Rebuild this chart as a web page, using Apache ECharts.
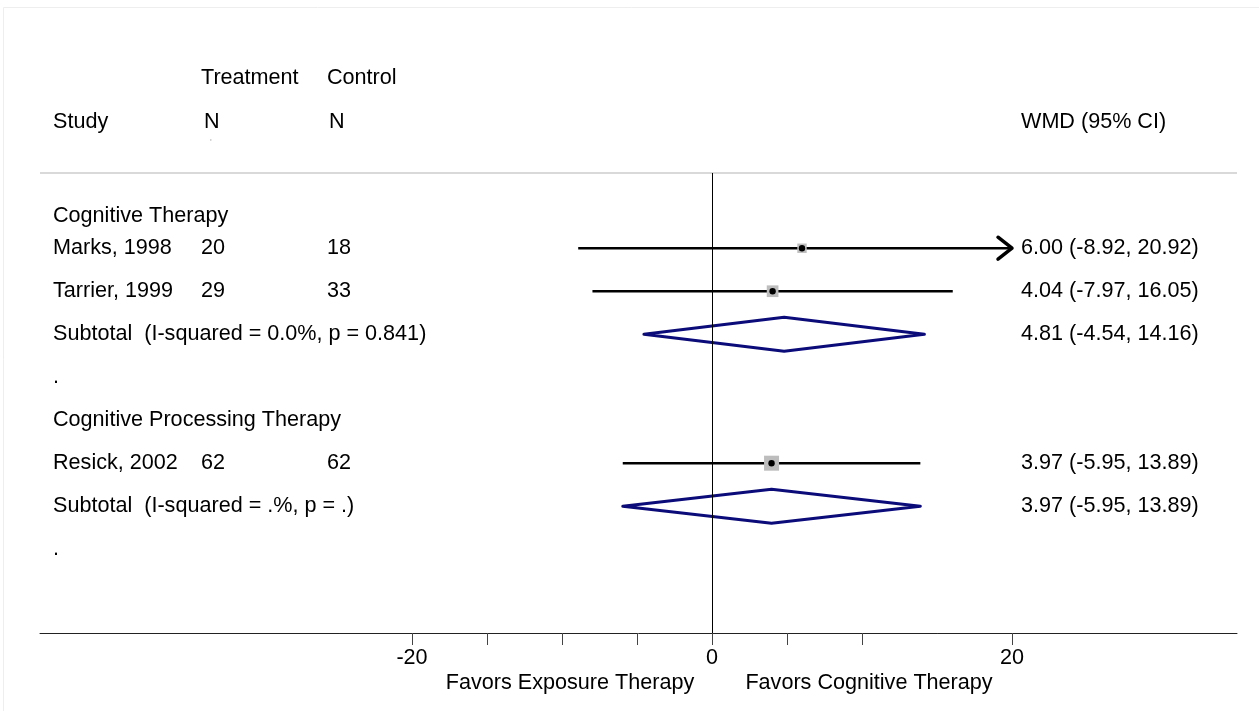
<!DOCTYPE html>
<html>
<head>
<meta charset="utf-8">
<title>Forest plot: cognitive vs exposure therapy</title>
<script src="https://cdn.jsdelivr.net/npm/echarts@6/dist/echarts.min.js"></script>
<style>
  html, body { margin: 0; padding: 0; background: #ffffff; }
  #chart { width: 1259px; height: 711px; }
</style>
</head>
<body>
<div id="chart"></div>
<script>
// ---- study-level data ----
const studies   = ['Marks, 1998', 'Tarrier, 1999', 'Resick, 2002'];
const treatN    = [20, 29, 62];
const controlN  = [18, 33, 62];
const wmd       = [6.00, 4.04, 3.97];
const ciLow     = [-8.92, -7.97, -5.95];
const ciHigh    = [20.92, 16.05, 13.89];
const weights   = [39.3, 60.7, 100];      // percent weight within subgroup
const studyRows = [1, 2, 6];

// ---- subgroups ----
const groups        = ['Cognitive Therapy', 'Cognitive Processing Therapy'];
const groupRows     = [0.25, 5];
const subtotalText  = ['Subtotal  (I-squared = 0.0%, p = 0.841)', 'Subtotal  (I-squared = .%, p = .)'];
const subtotalWmd   = [4.81, 3.97];
const subtotalLow   = [-4.54, -5.95];
const subtotalHigh  = [14.16, 13.89];
const subtotalRows  = [3, 7];
const spacerRows    = [4, 8];

// ---- axis ----
const xTickValues  = [-20, -15, -10, -5, 0, 5, 10, 20];
const xLabelValues = [-20, 0, 20];
const ciClipMax    = 20;

// ---- column headers ----
const headerTop    = ['Treatment', 'Control'];
const headerBottom = ['Study', 'N', 'N'];
const headerWmd    = 'WMD (95% CI)';
const favorsLeft   = 'Favors Exposure Therapy';
const favorsRight  = 'Favors Cognitive Therapy';

const FONT = "'Liberation Sans', Arial, Helvetica, sans-serif";
const FS = 21.6;
const COL_STUDY = 53, COL_TREAT = 201, COL_CTRL = 327, COL_WMD = 1021;

const fmt = v => v.toFixed(2);
const ciText = (e, l, h) => fmt(e) + ' (' + fmt(l) + ', ' + fmt(h) + ')';

// Rows of the text table, built from the arrays above
const tableRows = [];
groups.forEach((g, gi) => tableRows.push({ row: groupRows[gi], cells: [[COL_STUDY, g]] }));
studies.forEach((s, i) => tableRows.push({
  row: studyRows[i],
  cells: [[COL_STUDY, s], [COL_TREAT, String(treatN[i])], [COL_CTRL, String(controlN[i])],
          [COL_WMD, ciText(wmd[i], ciLow[i], ciHigh[i])]]
}));
subtotalText.forEach((t, i) => tableRows.push({
  row: subtotalRows[i],
  cells: [[COL_STUDY, t], [COL_WMD, ciText(subtotalWmd[i], subtotalLow[i], subtotalHigh[i])]]
}));
spacerRows.forEach(r => tableRows.push({ row: r, cells: [[COL_STUDY, '.']] }));

const chart = echarts.init(document.getElementById('chart'), null, { renderer: 'canvas' });

const textStyle = (t) => ({ text: t, fill: '#000', font: FS + 'px ' + FONT, align: 'left', verticalAlign: 'middle' });

const option = {
  backgroundColor: '#ffffff',
  animation: false,
  grid: { left: 40, right: 22, top: 173, bottom: 78, containLabel: false },
  xAxis: {
    type: 'value',
    min: -44.8,
    max: 35,
    splitLine: { show: false },
    axisLine: { show: true, onZero: false, lineStyle: { color: '#222', width: 1 } },
    axisTick: { show: true, customValues: xTickValues, length: 12, lineStyle: { color: '#444', width: 1 } },
    axisLabel: { customValues: xLabelValues, color: '#000', fontSize: FS, fontFamily: FONT, margin: 14 }
  },
  yAxis: {
    type: 'value',
    inverse: true,
    min: -0.75,
    max: 9.95,
    show: false
  },
  graphic: [
    { type: 'rect', shape: { x: 3.5, y: 7.5, width: 1260, height: 710 }, style: { fill: 'none', stroke: '#eeeeee', lineWidth: 1 }, silent: true },
    { type: 'line', shape: { x1: 40, y1: 173, x2: 1237, y2: 173 }, style: { stroke: '#d9d9d9', lineWidth: 2 }, silent: true },
    { type: 'text', x: COL_TREAT, y: 78, style: textStyle(headerTop[0]) },
    { type: 'text', x: COL_CTRL, y: 78, style: textStyle(headerTop[1]) },
    { type: 'text', x: COL_STUDY, y: 122, style: textStyle(headerBottom[0]) },
    { type: 'text', x: COL_TREAT + 3, y: 122, style: textStyle(headerBottom[1]) },
    { type: 'text', x: COL_CTRL + 2, y: 122, style: textStyle(headerBottom[2]) },
    { type: 'text', x: 210, y: 143, style: { text: "'", fill: '#b0b0b0', font: '9px ' + FONT, align: 'left', verticalAlign: 'middle' } },
    { type: 'text', x: COL_WMD, y: 122, style: textStyle(headerWmd) },
    { type: 'text', x: 570, y: 683, style: { text: favorsLeft, fill: '#000', font: FS + 'px ' + FONT, align: 'center', verticalAlign: 'middle' } },
    { type: 'text', x: 869, y: 683, style: { text: favorsRight, fill: '#000', font: FS + 'px ' + FONT, align: 'center', verticalAlign: 'middle' } }
  ],
  series: [
    // text columns: study names, sample sizes, WMD with CI
    {
      type: 'custom',
      name: 'table',
      silent: true,
      clip: false,
      data: tableRows.map(r => [0, r.row]),
      renderItem: (params, api) => {
        const r = tableRows[params.dataIndex];
        const y = api.coord([0, api.value(1)])[1];
        return {
          type: 'group',
          children: r.cells.map(c => ({ type: 'text', x: c[0], y: y, style: textStyle(c[1]) }))
        };
      }
    },
    // individual studies: CI line, weight box, point estimate, arrow when clipped
    {
      type: 'custom',
      name: 'studies',
      silent: true,
      clip: false,
      data: studies.map((s, i) => [wmd[i], studyRows[i], ciLow[i], ciHigh[i], weights[i]]),
      renderItem: (params, api) => {
        const est = api.value(0), row = api.value(1), lo = api.value(2), hi = api.value(3), w = api.value(4);
        const p = api.coord([est, row]);
        const clipped = hi > ciClipMax;
        const xl = api.coord([lo, row])[0];
        const xh = api.coord([Math.min(hi, ciClipMax), row])[0];
        const side = 1.5 * Math.sqrt(w);
        const children = [
          { type: 'line', shape: { x1: xl, y1: p[1], x2: xh, y2: p[1] }, style: { stroke: '#000', lineWidth: 2.5 } },
          { type: 'rect', shape: { x: p[0] - side / 2, y: p[1] - side / 2, width: side, height: side }, style: { fill: '#bdbdbd' } },
          { type: 'circle', shape: { cx: p[0], cy: p[1], r: 3.2 }, style: { fill: '#000' } }
        ];
        if (clipped) {
          children.push({
            type: 'polyline',
            shape: { points: [[xh - 14, p[1] - 11], [xh, p[1]], [xh - 14, p[1] + 11]] },
            style: { stroke: '#000', lineWidth: 3.5, fill: 'none', lineJoin: 'round', lineCap: 'round' }
          });
        }
        return { type: 'group', children };
      },
      markLine: {
        silent: true,
        symbol: 'none',
        label: { show: false },
        lineStyle: { color: '#000', width: 1, type: 'solid' },
        data: [{ xAxis: 0 }]
      }
    },
    // pooled subgroup estimates as diamonds
    {
      type: 'custom',
      name: 'subtotals',
      silent: true,
      clip: false,
      data: subtotalWmd.map((e, i) => [e, subtotalRows[i], subtotalLow[i], subtotalHigh[i]]),
      renderItem: (params, api) => {
        const est = api.value(0), row = api.value(1), lo = api.value(2), hi = api.value(3);
        const c = api.coord([est, row]);
        const xl = api.coord([lo, row])[0];
        const xh = api.coord([hi, row])[0];
        const h = 17;
        return {
          type: 'polygon',
          shape: { points: [[xl, c[1]], [c[0], c[1] - h], [xh, c[1]], [c[0], c[1] + h]] },
          style: { fill: 'none', stroke: '#0b0b7a', lineWidth: 3, lineJoin: 'round' }
        };
      }
    }
  ]
};

chart.setOption(option);
</script>
</body>
</html>
